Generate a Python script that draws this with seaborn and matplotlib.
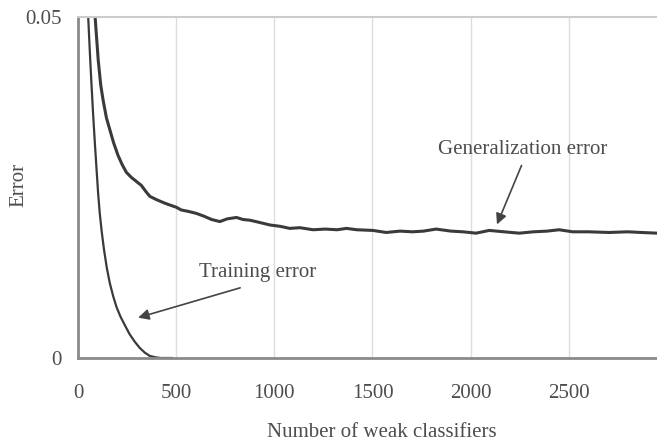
import matplotlib
matplotlib.use("Agg")
import matplotlib.pyplot as plt
import seaborn as sns
import pandas as pd

# ---- data ----
train_x = [51, 60, 68, 76, 85, 94, 102, 110, 120, 132, 146, 161, 178, 195, 215, 238, 262, 288,
           313, 339, 365, 395, 420, 480]
train_y = [0.0500, 0.0445, 0.0400, 0.0358, 0.0315, 0.0275, 0.0240, 0.0212, 0.0185, 0.0158, 0.0132,
           0.0110, 0.0091, 0.0075, 0.0061, 0.0048, 0.0035, 0.0024, 0.0015, 0.0008, 0.0003, 0.0001,
           0.0, 0.0]

gen_x = [85, 95, 102, 115, 127, 144, 161, 180, 203, 225, 246, 270, 300, 322, 345, 365, 400, 441,
         470, 500, 525, 560, 602, 640, 680, 722, 760, 807, 840, 875, 920, 977, 1030, 1078, 1130,
         1197, 1260, 1320, 1367, 1420, 1502, 1570, 1640, 1704, 1760, 1824, 1900, 1960, 2028,
         2095, 2170, 2248, 2320, 2390, 2451, 2520, 2600, 2706, 2800, 2870, 2950]
gen_y = [0.0505, 0.0465, 0.0437, 0.0400, 0.0378, 0.0352, 0.0335, 0.0316, 0.0297, 0.0283, 0.0272,
         0.0265, 0.0258, 0.0253, 0.0244, 0.0237, 0.0232, 0.0227, 0.0224, 0.0221, 0.0217, 0.0215,
         0.0212, 0.0208, 0.0203, 0.0200, 0.0204, 0.0206, 0.0203, 0.0202, 0.0199, 0.0195, 0.0193,
         0.0190, 0.0191, 0.0188, 0.0189, 0.0188, 0.0190, 0.0188, 0.0187, 0.0184, 0.0186, 0.0185,
         0.0186, 0.0189, 0.0186, 0.0185, 0.0183, 0.0187, 0.0185, 0.0183, 0.0185, 0.0186, 0.0188,
         0.0185, 0.0185, 0.0184, 0.0185, 0.0184, 0.0183]

x_ticks = [0, 500, 1000, 1500, 2000, 2500]
y_ticks = [0, 0.05]
y_tick_labels = ["0", "0.05"]

sns.set_theme(style="white")
plt.rcParams['font.family'] = ['Liberation Serif', 'DejaVu Serif']

text_color = "#4d4d4d"
line_color = "#3a3a3a"

fig = plt.figure(figsize=(6.57, 4.45), dpi=100)
ax = fig.add_axes([0.119, 0.1955, 0.881, 0.7665])

df_train = pd.DataFrame({"x": train_x, "y": train_y})
df_gen = pd.DataFrame({"x": gen_x, "y": gen_y})
sns.lineplot(data=df_train, x="x", y="y", ax=ax, color=line_color, linewidth=1.6, estimator=None)
sns.lineplot(data=df_gen, x="x", y="y", ax=ax, color=line_color, linewidth=2.2, estimator=None)

ax.set_xlim(0, 2950)
ax.set_ylim(0, 0.05)
ax.set_xticks(x_ticks)
ax.set_xticklabels([str(t) for t in x_ticks])
ax.set_yticks(y_ticks)
ax.set_yticklabels(y_tick_labels)
ax.tick_params(axis="x", length=0, pad=19, labelsize=15, labelcolor=text_color)
ax.tick_params(axis="y", length=0, pad=12, labelsize=15, labelcolor=text_color)

for t in x_ticks[1:]:
    ax.axvline(t, color="#dddddd", linewidth=1.0, zorder=0)

ax.spines["left"].set_color("#8a8a8a")
ax.spines["left"].set_linewidth(2.0)
ax.spines["bottom"].set_color("#8a8a8a")
ax.spines["bottom"].set_linewidth(2.0)
ax.spines["top"].set_color("#cccccc")
ax.spines["top"].set_linewidth(1.5)
ax.spines["right"].set_visible(False)

ax.set_xlabel("Number of weak classifiers", fontsize=15, color=text_color)
ax.set_ylabel("Error", fontsize=15, color=text_color)
ax.xaxis.set_label_coords(0.525, -0.19)
ax.yaxis.set_label_coords(-0.086, 0.507)

ax.text(2266, 0.0305, "Generalization error", fontsize=15, color=text_color, ha="center", va="center")
ax.annotate("", xy=(2129, 0.0192), xytext=(2265, 0.0286),
            arrowprops=dict(arrowstyle="-|>", color="#444444", lw=1.2, mutation_scale=16))
ax.text(913, 0.0125, "Training error", fontsize=15, color=text_color, ha="center", va="center")
ax.annotate("", xy=(292, 0.0058), xytext=(839, 0.0104),
            arrowprops=dict(arrowstyle="-|>", color="#444444", lw=1.2, mutation_scale=16))

fig.savefig("out.png", dpi=100)
